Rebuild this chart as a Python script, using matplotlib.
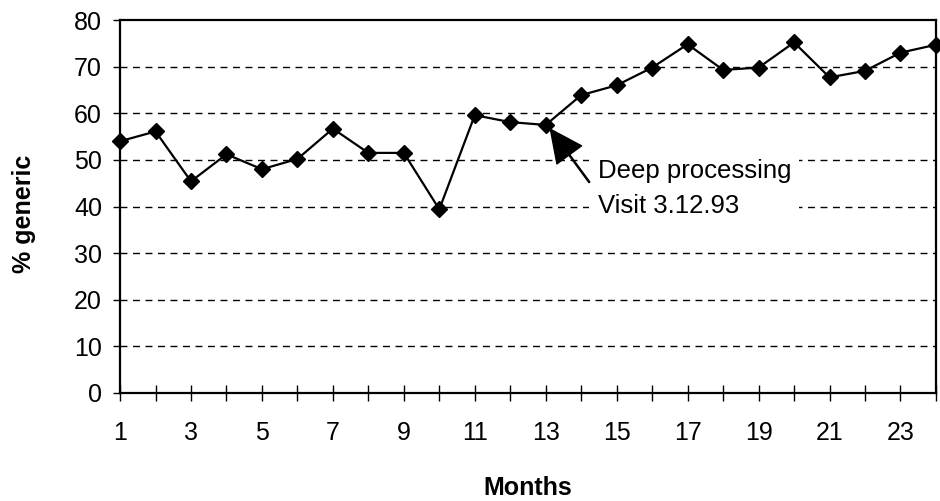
import matplotlib
matplotlib.use("Agg")
import matplotlib.pyplot as plt

plt.rcParams['font.family'] = ['Liberation Sans', 'DejaVu Sans']

months = list(range(1, 25))
pct_generic = [54.0, 56.1, 45.4, 51.2, 48.0, 50.2, 56.7, 51.5, 51.5, 39.4,
               59.6, 58.1, 57.5, 63.9, 66.0, 69.8, 74.8, 69.3, 69.8, 75.2,
               67.7, 69.1, 73.0, 74.7]
y_ticks = [0, 10, 20, 30, 40, 50, 60, 70, 80]
x_tick_labels = [str(m) if m % 2 == 1 else "" for m in months]
note_text = "Deep processing\nVisit 3.12.93"

fig = plt.figure(figsize=(9.4, 5.01), dpi=100)
ax = fig.add_axes([0.1277, 0.2156, 0.868, 0.7444])

ax.plot(months, pct_generic, color='black', linewidth=1.6, marker='D',
        markersize=8, clip_on=False, zorder=4)

ax.set_xlim(1, 24)
ax.set_ylim(0, 80)
ax.set_yticks(y_ticks)
ax.set_xticks(months)
ax.set_xticklabels(x_tick_labels)

# dashed horizontal gridlines
for v in y_ticks[1:-1]:
    ax.axhline(v, color='black', linewidth=1.0, linestyle=(0, (5, 4)), zorder=1)

for s in ax.spines.values():
    s.set_linewidth(1.6)
    s.set_color('black')

ax.tick_params(axis='y', direction='out', length=5, width=1.0, pad=8,
               labelsize=18, colors='black')
ax.tick_params(axis='x', direction='inout', length=11, width=1.0, pad=15,
               labelsize=18, colors='black')

ax.set_xlabel("Months", fontsize=18, fontweight='bold', labelpad=22)
ax.set_ylabel("% generic", fontsize=18, fontweight='bold')
ax.yaxis.set_label_coords(-0.103, 0.48)

# annotation arrow pointing at the visit month
ax.annotate("", xy=(13.13, 56.6), xytext=(14.23, 45.2),
            arrowprops=dict(facecolor='black', edgecolor='black', width=0.8,
                            headwidth=22, headlength=23, shrink=0),
            zorder=5)
ax.text(14.46, 43.9, note_text, fontsize=18.5, ha='left', va='center',
        linespacing=1.55, zorder=3,
        bbox=dict(facecolor='white', edgecolor='none', pad=6))

fig.savefig("out.png", dpi=100)
